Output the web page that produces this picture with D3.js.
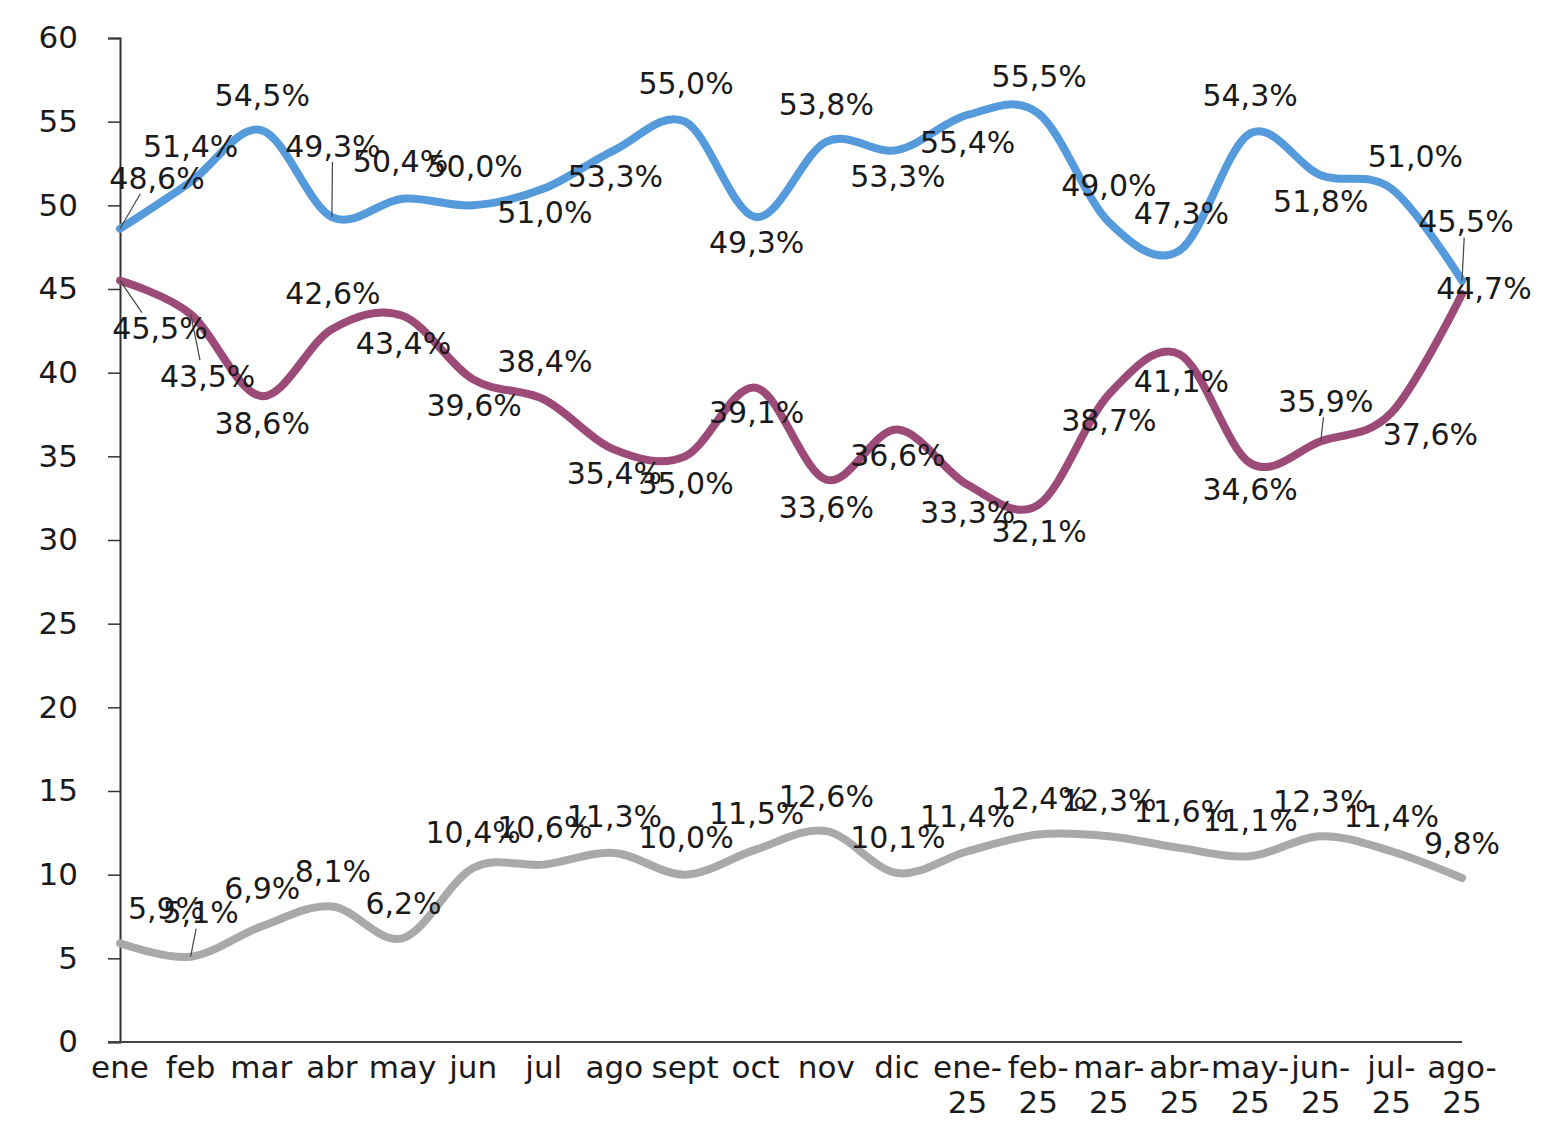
<!DOCTYPE html>
<html>
<head>
<meta charset="utf-8">
<script src="https://cdn.jsdelivr.net/npm/d3@7"></script>
<style>
  body { margin: 0; background: #fff; }
  text { font-family: "DejaVu Sans", sans-serif; fill: #1a1a1a; }
</style>
</head>
<body>
<svg id="chart"></svg>
<script>
// categories (month, year suffix on second line)
var months = ["ene", "feb", "mar", "abr", "may", "jun", "jul", "ago", "sept", "oct", "nov", "dic",
              "ene-25", "feb-25", "mar-25", "abr-25", "may-25", "jun-25", "jul-25", "ago-25"];

var blueValues   = [48.6, 51.4, 54.5, 49.3, 50.4, 50.0, 51.0, 53.3, 55.0, 49.3, 53.8, 53.3, 55.4, 55.5, 49.0, 47.3, 54.3, 51.8, 51.0, 45.5];
var purpleValues = [45.5, 43.5, 38.6, 42.6, 43.4, 39.6, 38.4, 35.4, 35.0, 39.1, 33.6, 36.6, 33.3, 32.1, 38.7, 41.1, 34.6, 35.9, 37.6, 44.7];
var grayValues   = [5.9, 5.1, 6.9, 8.1, 6.2, 10.4, 10.6, 11.3, 10.0, 11.5, 12.6, 10.1, 11.4, 12.4, 12.3, 11.6, 11.1, 12.3, 11.4, 9.8];

var yTicks = [0, 5, 10, 15, 20, 25, 30, 35, 40, 45, 50, 55, 60];

// label placement (offset of label centre from its point), kept apart from the data
var blueLabelOff = [[37,-51],[0,-36],[1,-35],[1,-71],[-2,-37],[2,-39],[1,24],[1,26],[1,-38],[1,25],
                    [0,-38],[1,26],[0,27],[1,-37],[0,-37],[2,-37],[0,-38],[0,26],[24,-32],[4,-59]];
var purpleLabelOff = [[40,48],[17,62],[1,27],[1,-36],[1,27],[1,26],[1,-38],[0,24],[1,27],[1,24],
                      [0,27],[1,26],[0,27],[1,26],[0,26],[2,27],[0,26],[5,-40],[39,21],[22,-6]];
var grayLabelOff = [[46,-35],[10,-44],[1,-38],[1,-35],[1,-35],[0,-36],[1,-37],[0,-37],[1,-37],[1,-36],
                    [0,-35],[1,-36],[0,-35],[1,-36],[0,-36],[2,-37],[0,-36],[0,-35],[0,-35],[0,-35]];
var blueLeaders = [0, 3, 19], purpleLeaders = [0, 1, 17], grayLeaders = [1];

var width = 1556, height = 1123;
var svg = d3.select("#chart").attr("width", width).attr("height", height);

var x = d3.scalePoint().domain(months).range([120, 1462]);
var y = d3.scaleLinear().domain([0, 60]).range([1042, 38]);

// y axis
var yAxis = svg.append("g")
    .attr("transform", "translate(120,0)")
    .call(d3.axisLeft(y).tickValues(yTicks).tickSize(12).tickPadding(30));
yAxis.select(".domain").attr("stroke", "#333").attr("stroke-width", 2);
yAxis.selectAll(".tick line").attr("stroke", "#333").attr("stroke-width", 1.5);
yAxis.selectAll(".tick text").attr("font-size", 31).attr("fill", "#1a1a1a")
    .attr("font-family", "DejaVu Sans, sans-serif");

// x axis
svg.append("line")
    .attr("x1", 108).attr("x2", x(months[months.length - 1]))
    .attr("y1", y(0)).attr("y2", y(0))
    .attr("stroke", "#444").attr("stroke-width", 2);

var xLabels = svg.append("g").selectAll("text")
    .data(months)
    .join("text")
    .attr("x", d => x(d))
    .attr("y", 1078)
    .attr("text-anchor", "middle")
    .attr("font-size", 31);
xLabels.each(function (d) {
    var parts = d.split("-");
    var t = d3.select(this);
    if (parts.length > 1) {
        t.append("tspan").attr("x", x(d)).text(parts[0] + "-");
        t.append("tspan").attr("x", x(d)).attr("dy", 35).text(parts[1]);
    } else {
        t.text(d);
    }
});

var line = d3.line()
    .x((d, i) => x(months[i]))
    .y(d => y(d))
    .curve(d3.curveCardinal.tension(0));

var fmt = v => v.toFixed(1).replace(".", ",") + "%";

function drawSeries(values, color, offs, leaders) {
    svg.append("path")
        .datum(values)
        .attr("d", line)
        .attr("fill", "none")
        .attr("stroke", color)
        .attr("stroke-width", 8)
        .attr("stroke-linecap", "round");

    leaders.forEach(function (i) {
        var px = x(months[i]), py = y(values[i]);
        var dx = offs[i][0], dy = offs[i][1];
        svg.append("line")
            .attr("x1", px).attr("y1", py)
            .attr("x2", px + dx * 0.55).attr("y2", py + dy + (dy < 0 ? 16 : -16))
            .attr("stroke", "#444").attr("stroke-width", 1.2);
    });

    svg.append("g").selectAll("text")
        .data(values)
        .join("text")
        .attr("x", (d, i) => x(months[i]) + offs[i][0])
        .attr("y", (d, i) => y(d) + offs[i][1])
        .attr("dy", "0.36em")
        .attr("text-anchor", "middle")
        .attr("font-size", 30)
        .text(fmt);
}

drawSeries(grayValues, "#a9a9a9", grayLabelOff, grayLeaders);
drawSeries(purpleValues, "#9c4a78", purpleLabelOff, purpleLeaders);
drawSeries(blueValues, "#559bdc", blueLabelOff, blueLeaders);
</script>
</body>
</html>
